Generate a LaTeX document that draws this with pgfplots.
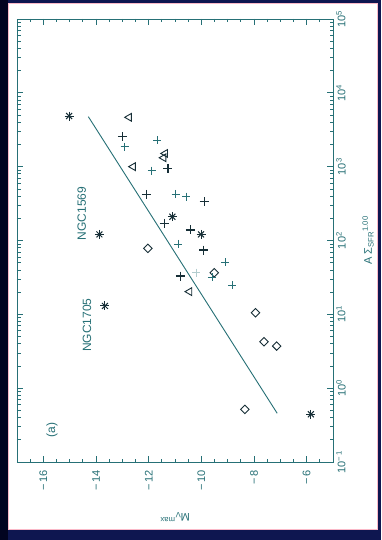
\documentclass[border=0pt]{standalone}
\usepackage{fontspec}
\setmainfont{Liberation Sans}
\usepackage{pgfplots}
\usepackage{pgfplotstable}
\pgfplotsset{compat=1.18}

\definecolor{frameblue}{RGB}{14,22,80}
\definecolor{edgedark}{RGB}{2,4,32}
\definecolor{axisteal}{RGB}{38,112,118}
\definecolor{inkdark}{RGB}{22,46,54}
\definecolor{fringe}{RGB}{250,185,200}

% M_V^max   A Sigma_SFR^1.00
\pgfplotstableread{
mv      asfr
-15.02  4850
-13.87  121
-13.66  13.0
-11.10  210
-10.01  121
-5.84   0.443
}\starpts

\pgfplotstableread{
mv      asfr
-12.74  4660
-11.37  1510
-11.43  1320
-12.59  1000
-10.45  20.3
}\tripts

\pgfplotstableread{
mv      asfr
-12.03  78.3
-9.51   36.6
-7.94   10.5
-7.62   4.26
-7.14   3.72
-8.35   0.516
}\diapts

\pgfplotstableread{
mv      asfr
-13.00  2550
-11.27  948
-12.09  423
-9.89   336
-10.42  139
-9.91   74.3
-10.80  33.0
-11.40  171
}\boldplus

\pgfplotstableread{
mv      asfr
-12.91  1860
-11.67  2290
-11.88  881
-10.98  427
-10.58  393
-10.89  89.7
-9.09   50.7
-8.82   24.9
-9.60   31.6
}\thinplus

\begin{document}
\begin{tikzpicture}[x=1pt,y=1pt]
% slide frame
\fill[frameblue] (0,0) rectangle (381,540);
\fill[edgedark] (0,0) rectangle (8,540);
\fill[white] (8,10) rectangle (378,537);
\draw[fringe, line width=0.8pt] (8.4,10.4) rectangle (377.6,536.6);

\begin{axis}[
  at={(17pt,78pt)}, anchor=south west,
  scale only axis, width=316pt, height=443pt,
  xmin=-17, xmax=-5,
  ymode=log, ymin=0.1, ymax=1e5,
  clip=false,
  axis line style={axisteal, line width=0.8pt},
  every tick/.style={axisteal, line width=0.7pt},
  major tick length=6pt, minor tick length=3.5pt,
  tick align=inside,
  xtick={-16,-14,-12,-10,-8,-6},
  xticklabels={−\,16,−\,14,−\,12,−\,10,−\,8,−\,6},
  minor xtick={-16.5,-15.5,-15,-14.5,-13.5,-13,-12.5,-11.5,-11,-10.5,-9.5,-9,-8.5,-7.5,-7,-6.5,-5.5},
  ytick={0.1,1,10,100,1000,10000,100000},
  yticklabels={10\textsuperscript{−\,1},10\textsuperscript{0},10\textsuperscript{1},10\textsuperscript{2},10\textsuperscript{3},10\textsuperscript{4},10\textsuperscript{5}},
  minor ytick={0.2,0.3,0.4,0.5,0.6,0.7,0.8,0.9,
               2,3,4,5,6,7,8,9,
               20,30,40,50,60,70,80,90,
               200,300,400,500,600,700,800,900,
               2000,3000,4000,5000,6000,7000,8000,9000,
               20000,30000,40000,50000,60000,70000,80000,90000},
  yticklabel pos=right,
  tick label style={font=\fontsize{11}{13}\selectfont, text=axisteal},
  xticklabel style={rotate=90, anchor=east, inner sep=1pt},
  xticklabel shift=7pt,
  yticklabel style={rotate=90, anchor=north, inner sep=1pt},
  yticklabel shift=2pt,
]
% power-law relation
\addplot[axisteal, line width=0.9pt] coordinates {(-14.29,4750) (-7.12,0.457)};

\addplot[only marks, mark=x, mark size=4.2pt, inkdark, line width=1pt] table[x=mv,y=asfr] {\starpts};
\addplot[only marks, mark=+, mark size=4.5pt, inkdark, line width=1pt] table[x=mv,y=asfr] {\starpts};
\addplot[only marks, mark=triangle, mark size=4.5pt, mark options={rotate=90}, inkdark, line width=0.9pt] table[x=mv,y=asfr] {\tripts};
\addplot[only marks, mark=square, mark size=3pt, mark options={rotate=45}, inkdark, line width=0.9pt] table[x=mv,y=asfr] {\diapts};
\addplot[only marks, mark=+, mark size=4.5pt, inkdark, line width=1.3pt] table[x=mv,y=asfr] {\boldplus};
\addplot[only marks, mark=+, mark size=4pt, axisteal, line width=0.7pt] table[x=mv,y=asfr] {\thinplus};
\addplot[only marks, mark=+, mark size=4pt, axisteal!35, line width=0.7pt] coordinates {(-10.20,36.6)};

\node[rotate=90, text=axisteal, font=\fontsize{12}{14}\selectfont] at (axis cs:-14.54,233) {NGC1569};
\node[rotate=90, text=axisteal, font=\fontsize{12}{14}\selectfont] at (axis cs:-14.34,7.16) {NGC1705};
\node[rotate=90, text=axisteal, font=\fontsize{12}{14}\selectfont] at (axis cs:-15.67,0.271) {(a)};

\node[rotate=180, text=axisteal, font=\fontsize{11}{13}\selectfont] at (axis description cs:0.5,-0.124) {M\textsubscript{V}\textsuperscript{max}};
\node[rotate=90, text=axisteal, font=\fontsize{11}{13}\selectfont] at (axis description cs:1.111,0.5) {A Σ\textsubscript{SFR}\textsuperscript{1.00}};
\end{axis}
\end{tikzpicture}
\end{document}
